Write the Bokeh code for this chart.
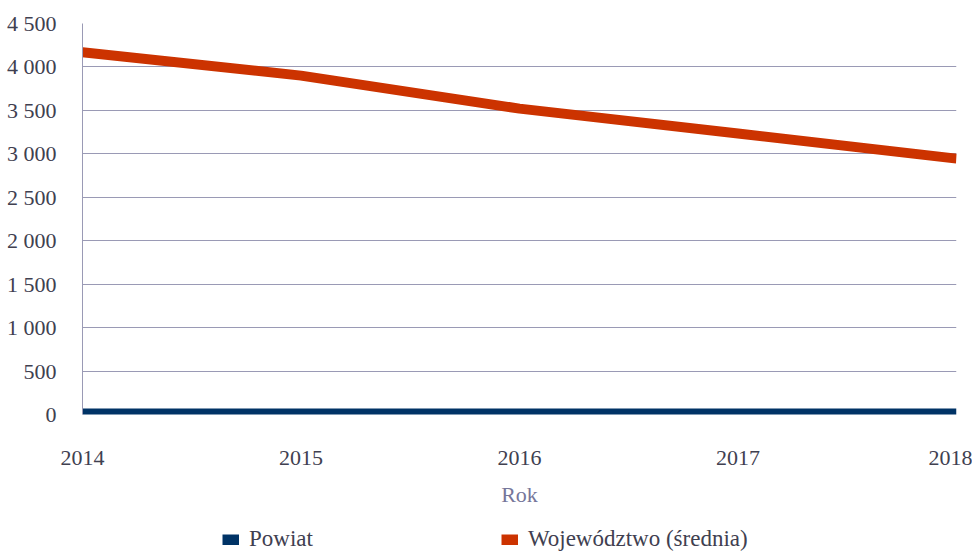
from bokeh.plotting import figure
from bokeh.layouts import column
from bokeh.models import Range1d, FixedTicker, Legend, LegendItem
from bokeh.embed import file_html
from bokeh.resources import INLINE

years = [2014, 2015, 2016, 2017, 2018]
powiat = [12, 12, 12, 12, 12]
wojewodztwo = [4170, 3900, 3520, 3235, 2945]
y_ticks = [0, 500, 1000, 1500, 2000, 2500, 3000, 3500, 4000, 4500]
y_tick_labels = ["0", "500", "1 000", "1 500", "2 000", "2 500", "3 000", "3 500", "4 000", "4 500"]
series_names = ["Powiat", "Województwo (średnia)"]
series_colors = ["#003366", "#CC3300"]

FONT = "Liberation Serif"
TXT = "#404050"
GRID = "#9a9ab5"

W = 972
p = figure(width=W, height=512, output_backend="svg", toolbar_location=None,
           x_range=Range1d(2014, 2018), y_range=Range1d(0, 4500),
           min_border_left=82, min_border_right=16, min_border_top=23,
           min_border_bottom=98, outline_line_color=None)

p.xgrid.grid_line_color = None
p.ygrid.grid_line_color = GRID
p.ygrid.grid_line_width = 1

p.yaxis.ticker = FixedTicker(ticks=y_ticks)
p.yaxis.major_label_overrides = {t: l for t, l in zip(y_ticks, y_tick_labels)}
p.yaxis.major_tick_line_color = None
p.yaxis.minor_tick_line_color = None
p.yaxis.axis_line_color = GRID
p.yaxis.major_label_standoff = 20
p.yaxis.major_label_text_font = FONT
p.yaxis.major_label_text_font_size = "22px"
p.yaxis.major_label_text_color = TXT

p.xaxis.ticker = FixedTicker(ticks=years)
p.xaxis.major_tick_line_color = None
p.xaxis.minor_tick_line_color = None
p.xaxis.axis_line_color = None
p.xaxis.major_label_standoff = 30
p.xaxis.major_label_text_font = FONT
p.xaxis.major_label_text_font_size = "22px"
p.xaxis.major_label_text_color = TXT
p.xaxis.axis_label = "Rok"
p.xaxis.axis_label_standoff = 14
p.xaxis.axis_label_text_font = FONT
p.xaxis.axis_label_text_font_size = "22px"
p.xaxis.axis_label_text_font_style = "normal"
p.xaxis.axis_label_text_color = "#76769a"

r_pow = p.line(years, powiat, line_color=series_colors[0], line_width=10)
r_woj = p.line(years, wojewodztwo, line_color=series_colors[1], line_width=10)

# legend strip: swatches drawn by legend glyphs of out-of-view proxy lines
lg = figure(width=W, height=40, output_backend="svg", toolbar_location=None,
            x_range=Range1d(0, 1), y_range=Range1d(0, 1),
            x_axis_type=None, y_axis_type=None, outline_line_color=None,
            min_border=0)
lg.grid.visible = False
items = []
for name, col in zip(series_names, series_colors):
    r = lg.line([5, 6], [5, 6], line_color=col, line_width=11)
    items.append(LegendItem(label=name, renderers=[r]))
legend = Legend(items=items, orientation="horizontal", location=(140, 0),
                label_text_font=FONT, label_text_font_size="23px",
                label_text_color=TXT, glyph_width=17, glyph_height=11,
                spacing=188, border_line_color=None, background_fill_alpha=0,
                padding=0, margin=0, label_standoff=10)
lg.add_layout(legend, "center")

layout = column(p, lg, spacing=0)
open("out.html", "w").write(file_html(layout, INLINE))
